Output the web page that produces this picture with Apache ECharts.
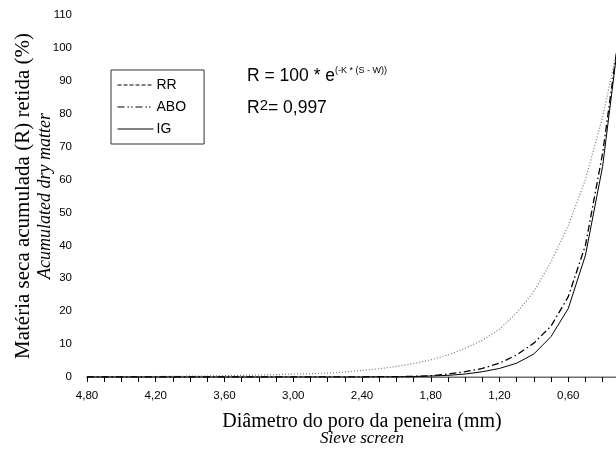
<!DOCTYPE html>
<html>
<head>
<meta charset="utf-8">
<script src="https://cdn.jsdelivr.net/npm/echarts@6/dist/echarts.min.js"></script>
<style>
  html, body { margin: 0; padding: 0; background: #fff; }
  #main { width: 616px; height: 450px; }
</style>
</head>
<body>
<div id="main"></div>
<script>
  // diâmetro do poro da peneira (mm)
  const sieve = [4.80, 4.65, 4.50, 4.35, 4.20, 4.05, 3.90, 3.75, 3.60, 3.45, 3.30, 3.15, 3.00, 2.85, 2.70, 2.55,
                 2.40, 2.25, 2.10, 1.95, 1.80, 1.65, 1.50, 1.35, 1.20, 1.05, 0.90, 0.75, 0.60, 0.45, 0.30, 0.15];

  // matéria seca acumulada retida (%)
  const rr  = [0.1, 0.1, 0.1, 0.15, 0.15, 0.2, 0.25, 0.3, 0.4, 0.5, 0.6, 0.7, 0.9, 1.0, 1.2, 1.5,
               2.0, 2.5, 3.2, 4.1, 5.2, 6.7, 8.7, 11.2, 14.5, 19.5, 26, 35, 46, 60, 79, 103];
  const abo = [0, 0, 0, 0, 0, 0, 0, 0, 0, 0, 0, 0, 0.05, 0.05, 0.05, 0.05,
               0.05, 0.1, 0.1, 0.2, 0.4, 0.9, 1.6, 2.6, 4.2, 6.7, 10.3, 15.5, 24.4, 40, 68, 106];
  const ig  = [0, 0, 0, 0, 0, 0, 0, 0, 0, 0, 0, 0, 0, 0, 0, 0,
               0, 0.05, 0.05, 0.15, 0.3, 0.5, 0.9, 1.6, 2.6, 4.2, 7.0, 12.3, 20.8, 37, 64, 106];

  const seriesNames = ['RR', 'ABO', 'IG'];

  const chart = echarts.init(document.getElementById('main'));

  const pairs = (vals) => sieve.map((s, i) => [s, vals[i]]);

  const option = {
    backgroundColor: '#fff',
    animation: false,
    grid: {
      left: 87,
      width: 550,   // passa da borda da figura, como no original recortado
      top: 15,
      height: 362,
      outerBoundsMode: 'none',
      containLabel: false
    },
    legend: {
      orient: 'vertical',
      left: 111,
      top: 70,
      padding: [8, 18, 8, 6],
      itemWidth: 36,
      itemHeight: 14,
      itemGap: 8,
      borderColor: '#333',
      borderWidth: 1,
      textStyle: { fontFamily: 'Liberation Sans', fontSize: 14, color: '#000', padding: [0, 0, 0, -2] },
      data: [
        { name: seriesNames[0], itemStyle: { opacity: 0 }, lineStyle: { type: 'dashed', color: '#000', width: 1 } },
        { name: seriesNames[1], itemStyle: { opacity: 0 }, lineStyle: { type: [7, 3, 1.5, 2, 1.5, 3], color: '#000', width: 1 } },
        { name: seriesNames[2], itemStyle: { opacity: 0 }, lineStyle: { type: 'solid', color: '#000', width: 1 } }
      ]
    },
    xAxis: [
      {
        type: 'value',
        inverse: true,
        min: 0,
        max: 4.8,
        interval: 0.6,
        name: '{a|Diâmetro do poro da peneira (mm)}\n{b|Sieve screen}',
        nameLocation: 'middle',
        nameGap: 37,
        nameMoveOverlap: false,
        nameTextStyle: {
          rich: {
            a: { fontFamily: 'Liberation Serif', fontSize: 20, lineHeight: 16, color: '#000' },
            b: { fontFamily: 'Liberation Serif', fontSize: 17, fontStyle: 'italic', lineHeight: 17, color: '#000' }
          }
        },
        axisLine: { show: true, onZero: false, lineStyle: { color: '#000', width: 1 } },
        axisTick: { show: true, length: 5, lineStyle: { color: '#000' } },
        minorTick: { show: true, splitNumber: 4, length: 5, lineStyle: { color: '#000' } },
        splitLine: { show: false },
        axisLabel: {
          margin: 13,
          fontFamily: 'Liberation Sans',
          fontSize: 11.5,
          color: '#000',
          formatter: (v) => v.toFixed(2).replace('.', ',')
        }
      },
      {
        // borda superior cinza
        type: 'value',
        position: 'top',
        inverse: true,
        min: 0,
        max: 4.8,
        axisLine: { show: true, lineStyle: { color: '#999', width: 1.5 } },
        axisTick: { show: false },
        axisLabel: { show: false },
        splitLine: { show: false }
      }
    ],
    yAxis: {
      type: 'value',
      min: 0,
      max: 110,
      interval: 10,
      name: '{a|Matéria seca acumulada (R) retida (%)}\n{b|Acumulated dry matter}',
      nameLocation: 'middle',
      nameRotate: 90,
      nameGap: 32,
      nameMoveOverlap: false,
      nameTextStyle: {
        rich: {
          a: { fontFamily: 'Liberation Serif', fontSize: 21, lineHeight: 24, color: '#000' },
          b: { fontFamily: 'Liberation Serif', fontSize: 18, fontStyle: 'italic', lineHeight: 20, color: '#000' }
        }
      },
      axisLine: { show: true, lineStyle: { color: '#000', width: 1 } },
      axisTick: { show: true, length: 5, lineStyle: { color: '#000' } },
      minorTick: { show: true, splitNumber: 2, length: 3, lineStyle: { color: '#000' } },
      splitLine: { show: false },
      axisLabel: { margin: 15, fontFamily: 'Liberation Sans', fontSize: 11.5, color: '#000' }
    },
    graphic: [
      {
        type: 'text',
        left: 247,
        top: 66,
        style: {
          text: 'R = 100 * e{sup|(-K * (S - W))}',
          font: '17.5px "Liberation Sans"',
          fill: '#000',
          rich: {
            sup: { fontSize: 9, fontFamily: 'Liberation Sans', padding: [0, 0, 11, 0] }
          }
        }
      },
      {
        type: 'text',
        left: 247,
        top: 98,
        style: {
          text: 'R{sup|2}= 0,997',
          font: '17.5px "Liberation Sans"',
          fill: '#000',
          rich: {
            sup: { fontSize: 15, fontFamily: 'Liberation Sans', padding: [0, 0, 6, 0] }
          }
        }
      }
    ],
    series: [
      {
        name: seriesNames[0],
        type: 'line',
        symbol: 'none',
        data: pairs(rr),
        lineStyle: { color: '#777', width: 1.2, type: [1, 2] },
        itemStyle: { color: '#000' }
      },
      {
        name: seriesNames[1],
        type: 'line',
        symbol: 'none',
        data: pairs(abo),
        lineStyle: { color: '#000', width: 1.3, type: [7, 3, 1.5, 3] },
        itemStyle: { color: '#000' }
      },
      {
        name: seriesNames[2],
        type: 'line',
        symbol: 'none',
        data: pairs(ig),
        lineStyle: { color: '#000', width: 1, type: 'solid' },
        itemStyle: { color: '#000' }
      }
    ]
  };

  chart.setOption(option);
</script>
</body>
</html>
